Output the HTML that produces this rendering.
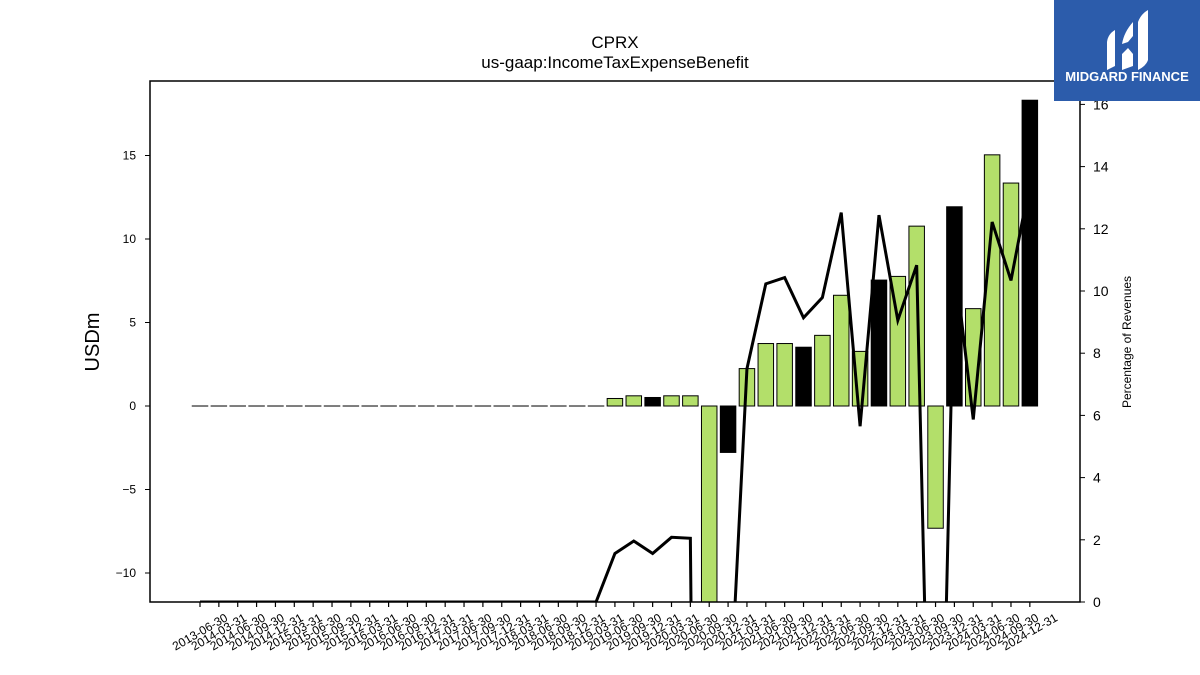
<!DOCTYPE html>
<html><head><meta charset="utf-8"><style>
html,body{margin:0;padding:0;background:#fff;width:1200px;height:675px;overflow:hidden;}
svg{display:block;font-family:"Liberation Sans",sans-serif;}
</style></head><body>
<svg id="chart" width="1200" height="675" viewBox="0 0 1200 675">
<text x="615" y="48" text-anchor="middle" font-size="17">CPRX</text>
<text x="615" y="68" text-anchor="middle" font-size="17">us-gaap:IncomeTaxExpenseBenefit</text>
<text transform="translate(99,342) rotate(-90)" text-anchor="middle" font-size="20">USDm</text>
<text transform="translate(1131,342) rotate(-90)" text-anchor="middle" font-size="12">Percentage of Revenues</text>
<defs><clipPath id="pc"><rect x="150" y="81" width="930" height="521"/></clipPath></defs>
<g id="bars" clip-path="url(#pc)"></g>
<g id="line" clip-path="url(#pc)"></g>
<g id="axes"></g>
<rect x="150" y="81" width="930" height="521" fill="none" stroke="#000" stroke-width="1.5"/>
<g>
<rect x="1054" y="0" width="146" height="101" fill="#2c5cab"/>
<path d="M1107 70 L1107 42 Q1108 34 1115 30 L1115 66 Z M1122 70 L1122 54 L1128 48 L1133 54 L1133 66 Z M1122 44 Q1124 32 1133 22 L1133 36 L1128 42 Z M1138 70 L1138 22 Q1141 14 1148 10 L1148 60 Q1146 66 1138 70 Z" fill="#fff"/>
<text x="1127" y="81" text-anchor="middle" font-size="13" font-weight="bold" fill="#fff">MIDGARD FINANCE</text>
</g>
</svg>
<script>
const categories=["2013-06-30","2014-03-31","2014-06-30","2014-09-30","2014-12-31","2015-03-31","2015-06-30","2015-09-30","2015-12-31","2016-03-31","2016-06-30","2016-09-30","2016-12-31","2017-03-31","2017-06-30","2017-09-30","2017-12-31","2018-03-31","2018-06-30","2018-09-30","2018-12-31","2019-03-31","2019-06-30","2019-09-30","2019-12-31","2020-03-31","2020-06-30","2020-09-30","2020-12-31","2021-03-31","2021-06-30","2021-09-30","2021-12-31","2022-03-31","2022-06-30","2022-09-30","2022-12-31","2023-03-31","2023-06-30","2023-09-30","2023-12-31","2024-03-31","2024-06-30","2024-09-30","2024-12-31"];
const taxValues=[0,0,0,0,0,0,0,0,0,0,0,0,0,0,0,0,0,0,0,0,0,0,0.45,0.61,0.51,0.61,0.61,-12.5,-2.78,2.24,3.74,3.74,3.52,4.23,6.63,3.27,7.54,7.76,10.77,-7.32,11.93,5.83,15.04,13.35,18.31];
const pctValues=[0,0,0,0,0,0,0,0,0,0,0,0,0,0,0,0,0,0,0,0,0,0,1.56,1.96,1.56,2.08,2.05,-60,-4.5,7.5,10.23,10.43,9.14,9.79,12.52,5.65,12.44,9.06,10.83,-15,11,5.87,12.22,10.34,13.5];
const yTicks=[-10,-5,0,5,10,15];
const y2Ticks=[0,2,4,6,8,10,12,14,16];
const NS="http://www.w3.org/2000/svg";
const x0=200,dx=18.86,bw=15.5;
const xs=i=>x0+i*dx;
const ys=v=>406-v*16.7;
const y2s=v=>602-v*31.1;
function mk(t,a,p){const e=document.createElementNS(NS,t);for(const k in a)e.setAttribute(k,a[k]);p.appendChild(e);return e;}
const bars=document.getElementById('bars'),line=document.getElementById('line'),axes=document.getElementById('axes');
taxValues.forEach((v,i)=>{
  const q4=categories[i].endsWith("12-31");
  const y=Math.min(ys(v),ys(0)),h=Math.abs(ys(v)-ys(0));
  const r=mk('rect',{x:xs(i)-bw/2,y:y,width:bw,height:Math.max(h,0.01),fill:q4?'#000':'#b3df6a',stroke:'#000','stroke-width':1},bars);
  
  
  if(h<0.5){const l=mk('line',{x1:xs(i)-bw/2,x2:xs(i)+bw/2,y1:ys(0),y2:ys(0),stroke:'#000','stroke-width':1},bars);
  
  }
});
const p=mk('polyline',{points:pctValues.map((v,i)=>xs(i)+','+y2s(v)).join(' '),fill:'none',stroke:'#000','stroke-width':3,'stroke-linejoin':'miter'},line);


yTicks.forEach(v=>{
  mk('line',{x1:145,x2:150,y1:ys(v),y2:ys(v),stroke:'#000','stroke-width':1},axes);
  const t=mk('text',{x:136,y:ys(v)+4,'text-anchor':'end','font-size':12},axes);
  t.textContent=v<0?'\u2212'+Math.abs(v):v;
  
  
});
y2Ticks.forEach(v=>{
  mk('line',{x1:1080,x2:1085,y1:y2s(v),y2:y2s(v),stroke:'#000','stroke-width':1},axes);
  const t=mk('text',{x:1093,y:y2s(v)+5,'font-size':14},axes);
  t.textContent=v;
  
  
});
categories.forEach((c,i)=>{
  mk('line',{x1:xs(i),x2:xs(i),y1:602,y2:607,stroke:'#000','stroke-width':1.2},axes);
  const t=mk('text',{transform:'translate('+xs(i)+',632) rotate(-30)','text-anchor':'middle',y:4,'font-size':12},axes);
  t.textContent=c;
  
  
});
</script>
</body></html>
